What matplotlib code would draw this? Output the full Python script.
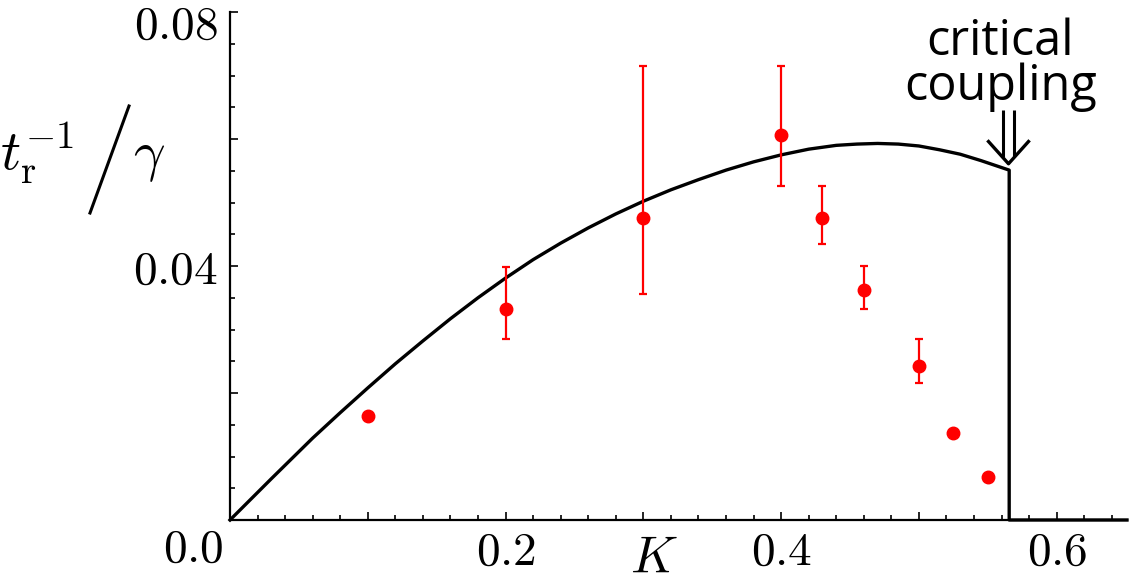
import matplotlib
matplotlib.use("Agg")
import matplotlib.pyplot as plt
from matplotlib.lines import Line2D
from matplotlib.ticker import MultipleLocator
import matplotlib.transforms as mtransforms
import numpy as np

plt.rcParams['mathtext.fontset'] = 'cm'

# theory curve (drops to zero at critical coupling)
K_theory = [0.0, 0.03, 0.06, 0.08, 0.1, 0.12, 0.14, 0.16, 0.18, 0.2, 0.22, 0.24, 0.26,
            0.28, 0.3, 0.32, 0.34, 0.36, 0.38, 0.4, 0.42, 0.44, 0.455, 0.47, 0.485,
            0.5, 0.515, 0.53, 0.545, 0.5655, 0.5655, 0.651]
rate_theory = [0.0, 0.0065, 0.0129, 0.0169, 0.0208, 0.0246, 0.0282, 0.0317, 0.0350, 0.0381,
               0.0410, 0.0436, 0.0460, 0.0482, 0.0502, 0.0520, 0.0536, 0.0551, 0.0564,
               0.0575, 0.0584, 0.0590, 0.0592, 0.0593, 0.0592, 0.0589, 0.0583, 0.0576,
               0.0566, 0.0551, 0.0, 0.0]

# measured points
K_meas = [0.1, 0.2, 0.3, 0.4, 0.43, 0.46, 0.5, 0.525, 0.55]
rate_meas = [0.0164, 0.0332, 0.0475, 0.0606, 0.0476, 0.0362, 0.0243, 0.0137, 0.0068]
rate_lo = [np.nan, 0.0285, 0.0356, 0.0526, 0.0434, 0.0332, 0.0215, np.nan, np.nan]
rate_hi = [np.nan, 0.0399, 0.0715, 0.0715, 0.0526, 0.0400, 0.0285, np.nan, np.nan]

x_ticks = [0.1, 0.2, 0.3, 0.4, 0.5, 0.6]
x_ticklabels = ['', '0.2', '', '0.4', '', '0.6']
y_ticks = [0.02, 0.04, 0.06, 0.08]
y_ticklabels = ['', '0.04', '', '0.08']

fig = plt.figure(figsize=(11.32, 5.87), dpi=100)
ax = fig.add_axes([230/1132, 1-520/587, 897/1132, 508/587])

ax.plot(K_theory, rate_theory, color='black', lw=2.4, solid_joinstyle='round', zorder=3, clip_on=False)

K_meas = np.array(K_meas)
rate_meas = np.array(rate_meas)
lo = np.array(rate_lo)
hi = np.array(rate_hi)
has_err = ~np.isnan(lo)
ax.errorbar(K_meas[has_err], rate_meas[has_err],
            yerr=[rate_meas[has_err] - lo[has_err], hi[has_err] - rate_meas[has_err]],
            fmt='o', color='red', ms=9, elinewidth=1.6, capsize=3, capthick=1.6, zorder=4)
ax.plot(K_meas[~has_err], rate_meas[~has_err], 'o', color='red', ms=9, zorder=4)

ax.set_xlim(0, 0.651)
ax.set_ylim(0, 0.08)
for s in ['top', 'right']:
    ax.spines[s].set_visible(False)
for s in ['left', 'bottom']:
    ax.spines[s].set_linewidth(1.6)

ax.set_xticks(x_ticks)
ax.set_xticklabels(['$' + t + '$' if t else '' for t in x_ticklabels])
ax.set_yticks(y_ticks)
ax.set_yticklabels(['$' + t + '$' if t else '' for t in y_ticklabels])
ax.xaxis.set_minor_locator(MultipleLocator(0.02))
ax.yaxis.set_minor_locator(MultipleLocator(0.005))
ax.tick_params(which='both', direction='in', width=1.2, labelsize=34)
ax.tick_params(which='major', length=6)
ax.tick_params(which='minor', length=3.5)
ax.tick_params(axis='x', pad=7)
ax.tick_params(axis='y', pad=9)

# push the top y label down a little so it stays inside the figure
for lab in ax.get_yticklabels():
    if '0.08' in lab.get_text():
        lab.set_transform(lab.get_transform() + mtransforms.ScaledTranslation(0, -0.09, fig.dpi_scale_trans))

ax.annotate('$0.0$', xy=(0, 0), xytext=(-7, -7), textcoords='offset pixels',
            ha='right', va='top', fontsize=34, annotation_clip=False)

# axis labels
fig.text(654/1132, 1-584/587, '$K$', fontsize=37, ha='center', va='bottom')
fig.text(0.0, 1-170/587, r'$t_{\mathrm{r}}^{-1}$', fontsize=40, ha='left', va='baseline')
fig.text(133/1132, 1-170/587, r'$\gamma$', fontsize=40, ha='left', va='baseline')
fig.add_artist(Line2D([90/1132, 129/1132], [1-213/587, 1-106/587], color='black', lw=2.2))

# critical coupling note with a double arrow
ax.text(0.559, 0.0661, 'critical\ncoupling', fontfamily='Open Sans', fontsize=35,
        ha='center', va='baseline', linespacing=0.9)
for xs in (0.5611, 0.5688):
    ax.plot([xs, xs], [0.0646, 0.0572], color='black', lw=2.2, clip_on=False, solid_capstyle='butt')
ax.plot([0.5505, 0.5650, 0.5795], [0.0596, 0.0561, 0.0596], color='black', lw=2.4, clip_on=False)

fig.savefig('out.png', dpi=100)
